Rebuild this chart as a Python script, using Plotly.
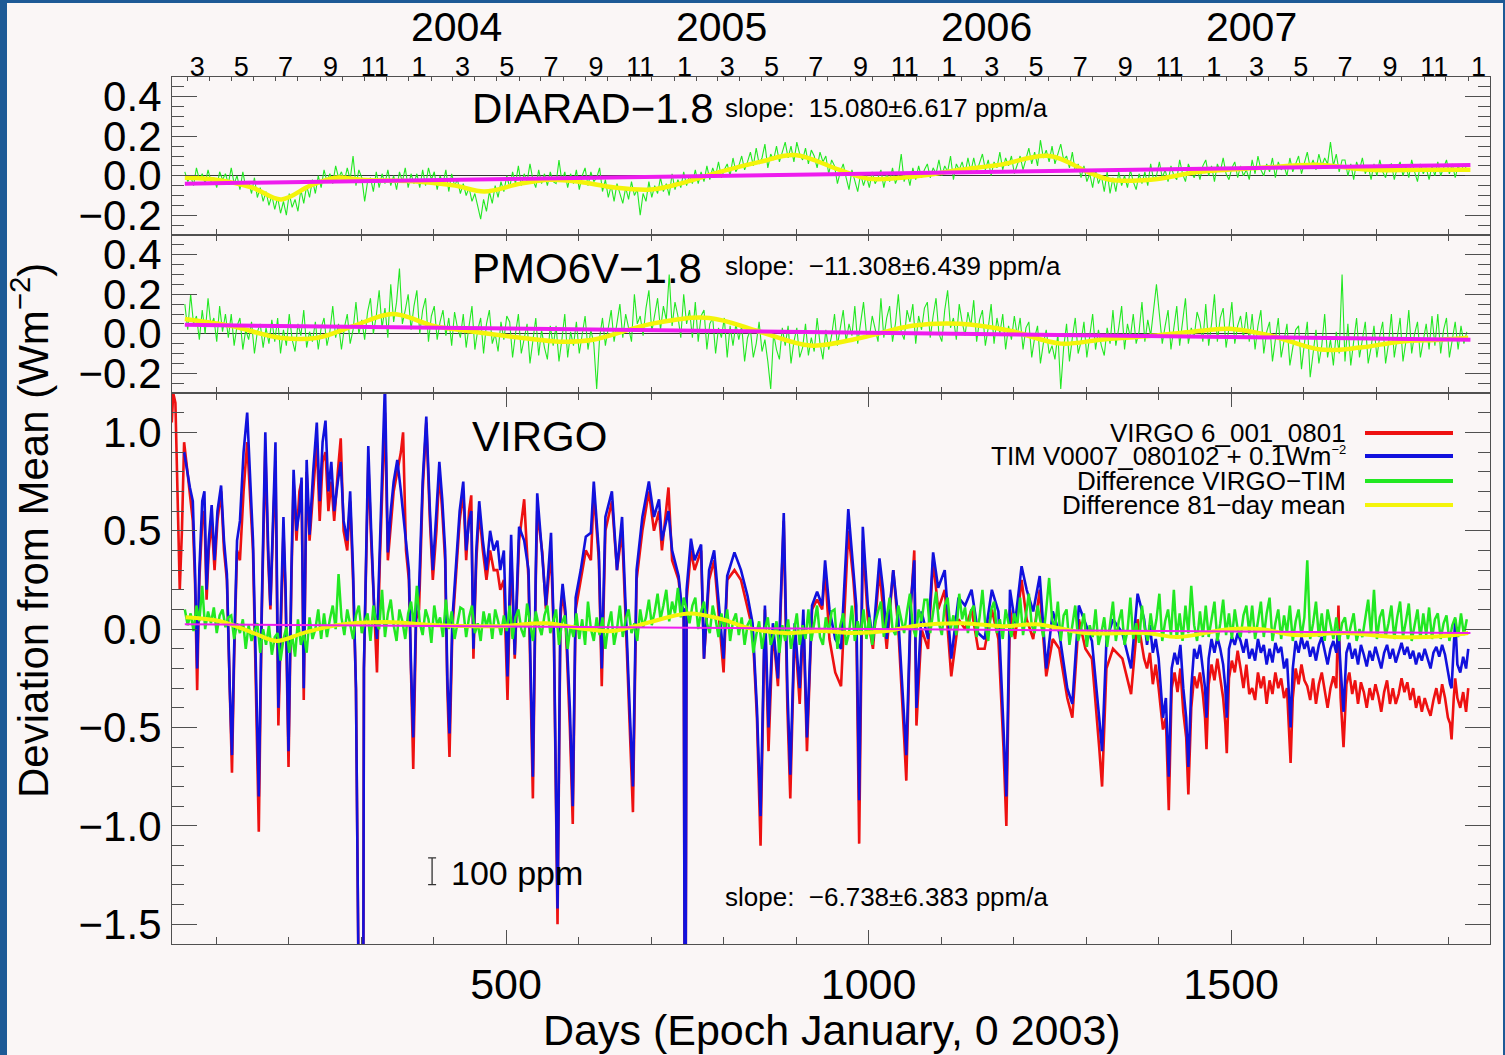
import datetime as dt
import plotly.graph_objects as go

# ------------------------------------------------------------------ data
# noisy daily-difference readings: first reading day, step (days), values in 0.01 W/m2
GREEN_START = 57
GREEN_STEP = 4

diarad_diff_c = [
    2, -3, 0, -5, 4, -2, 1, -4, 3, -3, -1, -6, 2, -2, 1, -4,
    4, -4, 0, -7, 2, -6, -3, -9, -1, -11, -6, -13, -8, -15, -10, -17,
    -11, -19, -13, -20, -9, -16, -12, -18, -7, -14, -5, -11, -2, -9, 0, -6,
    3, -3, 1, -4, 5, -1, 2, -3, 4, -2, 10, -5, 3, -1, -13, -3,
    -1, -8, 2, -6, 1, -4, 3, -5, 0, -7, 2, -3, 4, -6, 1, -4,
    1, -6, 3, -5, 4, -2, 2, -7, 0, -4, 3, -8, 1, -5, -2, -9,
    -4, -10, -6, -13, -9, -16, -22, -12, -18, -8, -14, -5, -11, -3, -8, 0,
    -6, 2, -4, 5, -5, 1, -3, 6, -2, -6, 3, -4, 1, -5, 2, -3,
    -4, 8, -3, 2, -6, 1, -4, 3, -7, 0, 4, -5, 2, -3, -1, 4,
    -8, -2, -11, -5, -13, -4, -9, -14, -6, -12, -3, -10, -7, -20, -9, -13,
    -3, -11, -5, -9, -1, -8, -4, -10, 1, -7, -2, -6, 2, -5, 0, -4,
    3, -4, 2, -3, 5, -2, 4, 0, 7, -1, 3, 6, 0, 9, 2, 5,
    10, 3, 7, 12, 5, 14, 6, 9, 16, 4, 11, 8, 15, 7, 12, 17,
    9, 15, 7, 17, 11, 8, 14, 6, 13, 10, 4, 12, 7, 10, 1, 8,
    5, -4, 2, 6, -1, -7, 3, -2, -8, 1, -5, 0, -6, 2, -4, -1,
    3, -6, 1, -3, 4, -4, 0, 11, -3, 2, -5, 4, -2, 5, -1, 3,
    6, -1, 4, 1, 8, 0, 5, 2, 10, -2, 6, 3, 7, 1, 9, 2,
    9, 2, 6, 11, 3, 8, 0, 7, 4, 12, 3, 9, 5, 10, 1, 6,
    10, 3, 8, 14, 6, 12, 5, 18, 9, 13, 7, 15, 6, 11, 16, 8,
    10, 4, 12, 2, 6, -1, 5, -3, 1, -6, 3, -4, 0, -8, 2, -9,
    -1, -8, 2, -5, 0, -6, 3, -3, -7, 1, -4, 2, -5, 6, -2, 0,
    7, -1, 3, -3, 5, 0, -2, 8, 1, -3, 6, 2, -1, 4, -2, 5,
    8, 0, 5, -3, 6, 2, 9, 1, -2, 4, 7, -1, 5, 0, 3, -2,
    8, 1, 10, 3, 0, 6, 2, 9, -1, 7, 3, 5, 0, 9, 2, 6,
    10, 1, 7, 12, 4, 8, 3, 11, 5, 9, 6, 17, 5, 11, 2, 8,
    8, 0, 6, -2, 7, 3, 9, 1, 5, -2, 6, 0, 8, 2, -1, 5,
    6, -2, 4, 7, 0, 5, -1, 8, 2, -3, 6, 1, 4, -2, 5, 0,
    7, 0, 4, 8, 1, 6, -1, 5, 2, 6, 3,
]
diarad_mean_days = [57, 100, 150, 190, 230, 265, 300, 380, 430, 470, 520, 560,
                    600, 650, 700, 740, 795, 850, 898, 960, 1000, 1071, 1126,
                    1180, 1250, 1305, 1333, 1389, 1457, 1540, 1622, 1691, 1760, 1830]
diarad_mean = [-0.01, -0.02, -0.06, -0.12, -0.05, -0.01, -0.02, -0.03, -0.05, -0.08,
               -0.04, -0.02, -0.03, -0.06, -0.07, -0.04, 0.02, 0.07, 0.105, 0.03,
               -0.015, 0.0, 0.03, 0.055, 0.10, 0.015, -0.02, -0.02, 0.02, 0.04,
               0.055, 0.03, 0.03, 0.03]

pmo_diff_c = [
    15, 2, 20, 5, 9, -3, 12, 0, 18, 4, 8, -4, 14, 1, 10, -2,
    10, -6, 4, 8, -8, 2, -3, 6, -10, 1, 5, -7, 3, -5, 7, -4,
    8, -10, 2, -6, 10, -3, -9, 5, -1, 12, -7, 1, -4, 6, -8, 3,
    8, -6, 1, 14, -2, 5, -8, 3, 10, -5, 2, 16, 0, 7, -3, 11,
    18, 0, 9, 22, 3, 13, -2, 25, 6, 16, 33, 5, 12, 20, 2, 14,
    22, 0, 12, 18, -4, 9, 14, -3, 6, 12, -1, 8, -6, 11, 3, -2,
    10, -7, 4, 14, -8, 2, 8, -10, 5, 12, -5, 0, -9, 6, -3, 9,
    6, -12, 0, 10, -10, -2, 5, -15, -4, 8, -11, 2, -7, -13, 4, -6,
    4, -14, -3, 10, -12, 1, -6, 6, -10, -1, 9, -8, 2, -5, -28, -2,
    8, -6, 3, 12, -4, 6, 15, -2, 10, 3, -4, 20, 5, 9, -1, 13,
    22, 1, 10, 18, 2, 14, 7, 30, 4, 16, 9, -2, 20, 5, 12, -2,
    16, -4, 9, 12, -8, 5, 8, -10, 3, -2, 8, -12, 4, -6, 5, -3,
    4, -14, -2, 2, -12, -5, 6, -9, -3, -14, -28, 0, -8, -13, 3, -6,
    4, -15, -4, 3, -12, -7, 5, -11, -2, -9, 8, -5, -13, 2, -8, -1,
    10, -6, 3, 12, -4, 5, -1, 14, -5, 6, 16, 0, -2, 9, 3, -4,
    18, -2, 8, 14, -4, 5, 20, 1, -3, 12, 6, 15, -5, 9, 2, 13,
    16, -2, 9, 18, 0, -4, 12, 22, 3, 8, -3, 15, 6, -1, 11, 4,
    17, -4, 7, 12, -6, 3, 15, -5, 8, 0, 10, -8, 4, -3, 9, -1,
    8, -8, 3, 6, -12, -2, 4, -15, -5, 2, -10, -6, -13, 0, -28, -7,
    5, -14, -2, 8, -10, -4, 6, -12, -1, 10, -8, 2, -6, -11, 3, -5,
    12, -6, 3, 14, -8, 5, -2, 10, -5, 1, 16, -4, 7, -1, 12, 25,
    10, -5, 4, 12, -8, 2, 14, -6, 5, 18, -5, 3, -2, 11, 6, -4,
    15, -6, 5, 20, -4, 8, 13, -7, 3, 16, -5, 4, 9, -2, 11, -4,
    10, -8, 4, 12, -10, 1, 6, -14, -3, 8, -12, -4, 5, -16, -6, 2,
    4, -18, -5, 6, -22, -9, 2, -15, -6, 10, -12, -3, -16, 1, -10, 30,
    -14, 5, -16, -4, 8, -12, -2, 6, -15, -7, 4, -12, -1, 6, -15, -5,
    10, -12, -2, 8, -14, -4, 12, -10, 0, 6, -12, -3, 5, -8, 9, -6,
    10, -10, 2, 8, -12, -3, 6, -8, 4, -5, 1,
]
pmo_mean_days = [57, 120, 188, 240, 290, 344, 400, 445, 520, 575, 620, 700, 780,
                 850, 920, 990, 1060, 1125, 1195, 1265, 1320, 1390, 1460, 1497,
                 1555, 1623, 1678, 1733, 1788, 1827]
pmo_mean = [0.075, 0.04, -0.02, -0.02, 0.04, 0.10, 0.04, 0.015, -0.02, -0.04, -0.03,
            0.05, 0.08, 0.01, -0.06, -0.02, 0.04, 0.05, 0.015, -0.05, -0.03, -0.01,
            0.015, 0.025, -0.01, -0.08, -0.07, -0.04, -0.03, -0.02]

vt_days = [
    39, 41, 44, 47, 50, 53, 56, 60, 64, 68,
    71, 74, 77, 81, 84, 87, 90, 94, 98, 102,
    107, 111, 115, 119, 122, 125, 129, 133, 138, 143,
    147, 151, 155, 159, 163, 168, 172, 175, 179, 182,
    186, 190, 193, 196, 200, 204, 207, 211, 215, 218,
    221, 225, 229, 234, 239, 243, 247, 251, 255, 259,
    263, 268, 272, 276, 281, 285, 289, 293, 295, 302,
    304, 310, 314, 318, 322, 326, 330, 333, 337, 341,
    345, 350, 355, 358, 362, 366, 369, 372, 376, 380,
    385, 390, 395, 399, 404, 408, 412, 416, 419, 422,
    426, 431, 436, 441, 445, 449, 452, 455, 459, 463,
    468, 473, 478, 483, 488, 492, 497, 502, 507, 512,
    518, 525, 531, 535, 537, 541, 543, 550, 555, 562,
    566, 571, 575, 578, 582, 588, 592, 596, 603, 610,
    617, 621, 628, 632, 637, 646, 653, 660, 666, 671,
    675, 680, 688, 697, 704, 711, 715, 724, 729, 738,
    742, 745, 747, 749, 755, 760, 769, 773, 780, 787,
    800, 805, 815, 824, 833, 840, 846, 851, 857, 862,
    868, 875, 883, 888, 892, 898, 905, 910, 915, 922,
    929, 936, 940, 946, 954, 962, 972, 979, 983, 987,
    992, 999, 1006, 1015, 1020, 1025, 1034, 1041, 1049, 1052,
    1058, 1063, 1066, 1073, 1082, 1089, 1096, 1105, 1114, 1124,
    1133, 1142, 1151, 1160, 1170, 1179, 1186, 1190, 1195, 1202,
    1211, 1218, 1227, 1236, 1245, 1254, 1263, 1274, 1281, 1290,
    1299, 1308, 1318, 1322, 1328, 1337, 1350, 1362, 1371,
    1380, 1384, 1388, 1392, 1396, 1400, 1403, 1406, 1410, 1414,
    1418, 1422, 1426, 1430, 1434, 1438, 1441, 1445, 1449, 1453,
    1457, 1461, 1464, 1466, 1469, 1473, 1477, 1481, 1485, 1489,
    1492, 1494, 1497, 1501, 1505, 1509, 1513, 1517, 1521, 1525,
    1529, 1533, 1537, 1541, 1545, 1549, 1553, 1557, 1561, 1565,
    1569, 1573, 1577, 1580, 1582, 1585, 1589, 1593, 1597, 1601,
    1605, 1609, 1613, 1617, 1621, 1625, 1629, 1633, 1637, 1641,
    1645, 1648, 1651, 1655, 1659, 1663, 1667, 1671, 1675, 1679,
    1683, 1687, 1691, 1695, 1699, 1703, 1707, 1711, 1715, 1719,
    1723, 1727, 1731, 1735, 1739, 1743, 1747, 1751, 1755, 1759,
    1763, 1767, 1771, 1775, 1779, 1783, 1787, 1791, 1795, 1799,
    1802, 1804, 1807, 1809, 1812, 1816, 1820, 1824, 1827,
]
tim_vals = [
    None, None, None, None, None, None, 0.90, 0.80, 0.72, 0.65,
    0.30, -0.20, 0.30, 0.65, 0.70, 0.20, 0.45, 0.63, 0.35, 0.60,
    0.73, 0.45, 0.28, -0.30, -0.64, -0.10, 0.45, 0.55, 0.90, 1.10,
    0.80, 0.45, -0.20, -0.85, 0.10, 1.00, 0.40, 0.12, 0.60, 0.95,
    -0.40, 0.20, 0.57, 0.20, -0.62, 0.30, 0.81, 0.50, 0.60, 0.77,
    -0.30, 0.86, 0.48, 0.80, 1.05, 0.65, 0.95, 1.06, 0.70, 0.85,
    0.60, 0.75, 0.85, 0.55, 0.45, 0.70, 0.30, -0.30, -4.0, -4.0,
    -0.20, 0.93, 0.50, 0.12, -0.05, 0.40, 0.80, 1.25, 0.39, 0.60,
    0.75, 0.86, 0.70, 0.60, 0.45, 0.30, -0.20, -0.55, 0.10, 0.20,
    0.75, 1.08, 0.60, 0.30, 0.60, 0.85, 0.66, 0.40, -0.25, -0.53,
    0.05, 0.35, 0.60, 0.75, 0.40, 0.55, 0.60, -0.10, 0.40, 0.65,
    0.45, 0.30, 0.50, 0.40, 0.45, 0.30, 0.40, -0.24, 0.48, -0.13,
    0.52, 0.45, 0.30, -0.40, -0.75, 0.30, 0.69, 0.37, 0.12, 0.49,
    -0.02, -1.42, 0.10, 0.23, 0.09, -0.40, -0.90, 0.16, 0.30, 0.47,
    0.49, 0.75, 0.39, -0.20, 0.57, 0.70, 0.30, 0.57, -0.04, -0.45,
    -0.80, 0.30, 0.57, 0.75, 0.57, 0.66, 0.45, 0.60, 0.40, 0.27,
    0.12, 0.10, -3.0, 0.20, 0.46, 0.35, 0.43, -0.15, 0.30, 0.40,
    -0.15, 0.27, 0.39, 0.30, 0.17, 0.03, -0.40, -0.95, 0.12, -0.50,
    0.03, -0.25, 0.59, -0.30, -0.74, 0.03, -0.30, 0.10, -0.55, 0.12,
    0.19, 0.12, 0.35, 0.10, -0.05, -0.10, 0.61, 0.30, 0.12, -0.87,
    0.52, 0.12, -0.06, 0.36, 0.20, -0.05, 0.30, 0.05, -0.50, -0.64,
    0.12, 0.35, -0.40, 0.09, -0.05, 0.39, 0.21, 0.30, -0.15, 0.16,
    0.12, 0.20, -0.02, -0.05, 0.20, 0.09, -0.50, -0.85, 0.20, 0.03,
    0.32, 0.20, 0.09, 0.27, -0.20, 0.09, -0.02, -0.30, -0.38, 0.12,
    0.03, -0.06, -0.45, -0.62, -0.06, 0.05, -0.02, -0.20, 0.18,
    0.05, -0.08, 0.02, -0.12, -0.05, -0.15, -0.30, -0.45, -0.35, -0.75,
    -0.20, -0.12, -0.18, -0.08, -0.30, -0.45, -0.70, -0.30, -0.10, -0.15,
    -0.08, -0.20, -0.30, -0.45, -0.15, -0.05, -0.12, -0.04, -0.10, -0.18,
    -0.30, -0.45, -0.10, -0.04, -0.08, -0.02, -0.06, -0.12, -0.05, -0.15,
    -0.10, -0.16, -0.05, -0.12, -0.08, -0.18, -0.10, -0.17, -0.07, -0.12,
    -0.09, -0.20, -0.15, -0.35, -0.50, -0.20, -0.06, -0.12, -0.04, -0.10,
    -0.06, -0.14, -0.09, -0.16, -0.08, -0.04, -0.12, -0.18, -0.10, -0.06,
    -0.12, 0.00, -0.20, -0.42, -0.12, -0.07, -0.15, -0.10, -0.18, -0.08,
    -0.13, -0.19, -0.11, -0.16, -0.09, -0.14, -0.20, -0.12, -0.08, -0.15,
    -0.10, -0.17, -0.12, -0.07, -0.13, -0.09, -0.15, -0.11, -0.18, -0.12,
    -0.16, -0.10, -0.15, -0.20, -0.12, -0.09, -0.14, -0.08, -0.13, -0.22,
    -0.28, -0.30, -0.10, 0.05, -0.18, -0.22, -0.14, -0.20, -0.10,
]
virgo_vals = [
    1.05, 1.20, 1.15, 0.60, 0.20, 0.50, 0.95, 0.82, 0.68, 0.55,
    0.25, -0.31, 0.25, 0.55, 0.60, 0.15, 0.40, 0.55, 0.30, 0.55,
    0.70, 0.40, 0.25, -0.35, -0.73, -0.15, 0.40, 0.35, 0.70, 0.95,
    0.70, 0.40, -0.30, -1.03, 0.05, 0.92, 0.35, 0.10, 0.55, 0.85,
    -0.49, 0.15, 0.50, 0.15, -0.70, 0.25, 0.75, 0.45, 0.70, 0.75,
    -0.36, 0.80, 0.45, 0.70, 0.95, 0.55, 0.85, 0.90, 0.60, 0.75,
    0.55, 0.80, 0.97, 0.50, 0.40, 0.65, 0.25, -0.30, -4.0, -4.0,
    -0.20, 0.85, 0.45, 0.10, -0.22, 0.35, 0.75, 1.10, 0.35, 0.55,
    0.70, 0.80, 0.90, 1.00, 0.40, 0.25, -0.30, -0.71, 0.05, 0.10,
    0.70, 1.05, 0.55, 0.25, 0.50, 0.80, 0.60, 0.35, -0.30, -0.65,
    0.00, 0.30, 0.55, 0.70, 0.35, 0.60, 0.68, -0.15, 0.35, 0.60,
    0.40, 0.25, 0.40, 0.30, 0.30, 0.20, 0.25, -0.36, 0.40, -0.15,
    0.45, 0.66, 0.25, -0.50, -0.86, 0.25, 0.60, 0.39, 0.10, 0.40,
    -0.05, -1.50, 0.05, 0.20, 0.05, -0.50, -0.99, 0.10, 0.25, 0.40,
    0.35, 0.70, 0.35, -0.29, 0.50, 0.65, 0.30, 0.50, -0.05, -0.55,
    -0.93, 0.25, 0.50, 0.70, 0.50, 0.60, 0.40, 0.72, 0.35, 0.25,
    0.10, 0.10, -3.0, 0.15, 0.40, 0.30, 0.40, -0.15, 0.25, 0.35,
    -0.22, 0.25, 0.30, 0.25, 0.10, 0.00, -0.45, -1.10, 0.10, -0.62,
    0.00, -0.29, 0.55, -0.40, -0.86, 0.00, -0.38, 0.05, -0.62, 0.10,
    0.15, 0.10, 0.30, -0.05, -0.22, -0.29, 0.50, 0.25, 0.05, -1.09,
    0.45, 0.05, -0.10, 0.30, 0.10, -0.10, 0.30, 0.00, -0.55, -0.77,
    0.10, 0.40, -0.49, 0.00, -0.10, 0.35, 0.10, 0.20, -0.24, 0.05,
    0.00, 0.10, -0.10, -0.10, 0.10, -0.05, -0.60, -1.00, 0.10, -0.05,
    0.25, 0.05, -0.05, 0.20, -0.24, -0.05, -0.10, -0.35, -0.45, 0.05,
    -0.10, -0.15, -0.60, -0.80, -0.20, -0.10, -0.15, -0.33, 0.05,
    -0.15, -0.20, -0.12, -0.28, -0.18, -0.30, -0.42, -0.51, -0.45, -0.92,
    -0.30, -0.22, -0.32, -0.20, -0.42, -0.55, -0.84, -0.40, -0.24, -0.30,
    -0.22, -0.33, -0.45, -0.61, -0.28, -0.18, -0.26, -0.15, -0.25, -0.35,
    -0.48, -0.63, -0.25, -0.16, -0.22, -0.11, -0.20, -0.30, -0.18, -0.33,
    -0.30, -0.36, -0.22, -0.30, -0.24, -0.38, -0.26, -0.33, -0.22, -0.30,
    -0.25, -0.35, -0.30, -0.50, -0.68, -0.35, -0.20, -0.28, -0.18, -0.26,
    -0.29, -0.36, -0.25, -0.38, -0.28, -0.22, -0.32, -0.40, -0.30, -0.24,
    -0.30, 0.12, -0.35, -0.60, -0.28, -0.22, -0.33, -0.26, -0.38, -0.27,
    -0.32, -0.40, -0.30, -0.36, -0.28, -0.34, -0.42, -0.32, -0.26, -0.38,
    -0.30, -0.38, -0.33, -0.25, -0.32, -0.27, -0.36, -0.30, -0.40, -0.34,
    -0.42, -0.35, -0.40, -0.44, -0.36, -0.30, -0.38, -0.28, -0.35, -0.45,
    -0.48, -0.56, -0.35, -0.25, -0.35, -0.40, -0.32, -0.42, -0.30,
]
virgo_diff_c = [
    10, 2, 8, -1, 12, 4, 22, 0, 9, 3, 11, -2, 7, 10, 1, 6,
    7, -5, 3, -2, 5, -10, 2, -6, -1, 3, -12, 0, -8, 2, -13, -4,
    -2, -16, -5, 1, -12, -3, -14, 5, -8, -2, -12, 6, -5, 0, 10, -5,
    8, -4, 5, 12, 0, 28, 6, -3, 10, 2, -5, 7, 12, -2, 4, 8,
    -6, 12, 3, 0, 20, -4, 8, 15, 2, -6, 10, 4, -5, 8, 14, 1,
    22, 3, -3, 10, 5, -7, 12, 2, 6, -4, 15, 0, 9, -5, 4, 11,
    10, -4, 6, 12, -2, 3, -6, 9, 1, 8, -5, 10, 4, -3, 7, -1,
    12, -5, 6, 10, 0, -4, 13, 3, -6, 9, 2, -3, 7, 12, -2, 4,
    10, -8, 3, 7, -10, 2, -4, 8, -5, 5, -8, 14, 0, -6, 6, -3,
    6, -10, 2, 9, -8, 0, 12, -4, 5, 10, -2, 3, -6, 10, 1, 6,
    15, 2, 9, 18, 5, 12, 20, 4, 14, 8, 21, 6, 16, 10, 3, 12,
    16, 0, 9, 14, 3, -2, 12, 5, -4, 8, 0, 10, -6, 4, 8, -3,
    6, -8, 2, 5, -12, -3, 4, -10, 0, 6, -8, -3, 4, -12, 2, -6,
    5, -10, 0, 8, -8, 2, -5, 10, -6, 3, 12, -4, -8, 6, -2, 9,
    10, -10, 2, 8, -8, -2, 12, -6, 4, -3, 10, -5, 6, -8, 3, 9,
    14, -4, 6, 16, 0, -3, 12, 5, -2, 9, 18, 1, -4, 10, 4, 15,
    15, -2, 8, 19, 3, -3, 12, 16, 0, 7, -3, 18, 5, 11, -2, 9,
    12, -4, 6, 20, 2, -6, 10, 14, -2, 5, -5, 10, 3, -4, 8, 2,
    16, -3, 7, 18, 2, -2, 12, 4, -4, 10, 26, 5, 0, 14, -6, 7,
    10, -8, 3, 12, -6, 0, 8, -9, 2, -4, 10, -8, -2, 6, -9, 4,
    14, -6, 4, 10, -8, -1, 16, -5, 3, -7, 12, 0, -6, 8, -3, 5,
    18, -6, 4, 10, -3, 20, -5, 8, -6, 12, -2, 22, 2, -6, 9, -4,
    12, -4, 6, 14, -6, 3, 15, -3, 8, -5, 10, 0, -4, 7, 12, -2,
    12, -5, 4, 14, -4, 8, 16, -6, 3, 10, -5, 7, -2, 12, -6, 4,
    10, -4, 6, 35, -5, 3, 14, -4, 8, -6, 10, 2, -5, 6, -6, 3,
    6, -5, 2, 8, -6, 0, -4, 5, 15, -3, 20, -5, 6, 10, -4, 3,
    12, -5, 6, 14, -4, 4, 13, -6, 2, 10, -5, 8, -3, 11, -5, 5,
    8, -5, 3, 7, -6, 2, 6, -4, 8, -3, 5,
]
virgo_mean_days = [58, 106, 152, 184, 220, 266, 335, 404, 491, 555, 601, 647, 693,
                   752, 798, 835, 885, 936, 978, 1024, 1070, 1130, 1185, 1231, 1263,
                   1300, 1382, 1427, 1496, 1542, 1588, 1657, 1726, 1794, 1827]
virgo_mean = [0.06, 0.04, -0.02, -0.06, -0.02, 0.02, 0.036, 0.02, 0.015, 0.03, 0.005,
              -0.01, 0.03, 0.08, 0.05, 0.005, -0.02, -0.01, -0.02, -0.01, 0.02, 0.03,
              0.015, 0.025, 0.005, -0.02, -0.02, -0.04, 0.0, 0.0, -0.03, -0.02, -0.04,
              -0.035, -0.02]

# linear fits (start / end of the record)
fit_days = [57, 1830]
diarad_fit = [-0.04, 0.055]
pmo_fit = [0.045, -0.03]
virgo_fit = [0.025, -0.02]

# scale bar: 100 ppm of TSI (~1361 W/m2)
SCALE_DAY, SCALE_Y, SCALE_HALF = 398, -1.23, 0.068

panel_labels = ["DIARAD\u22121.8", "PMO6V\u22121.8", "VIRGO"]
slope_labels = ["slope:  15.080\u00b16.617 ppm/a",
                "slope:  \u221211.308\u00b16.439 ppm/a",
                "slope:  \u22126.738\u00b16.383 ppm/a"]
legend_labels = ["VIRGO 6_001_0801",
                 "TIM V0007_080102 + 0.1Wm<sup><span style='font-size:13px'>\u22122</span></sup>",
                 "Difference VIRGO\u2212TIM",
                 "Difference 81\u2212day mean"]
years = [2004, 2005, 2006, 2007]

diarad_diff = [v / 100 for v in diarad_diff_c]
pmo_diff = [v / 100 for v in pmo_diff_c]
virgo_diff = [v / 100 for v in virgo_diff_c]

# ------------------------------------------------------------------ style
FONT = "Liberation Sans, Arial, Helvetica, sans-serif"
BG = "#faf6f6"
FRAME = "#505050"
RED, BLUE, GREEN, YELLOW, MAGENTA = "#ee1111", "#1111dd", "#22e822", "#f4f40a", "#ee1cee"
BORDER = "#1d5a96"

W, H = 1505, 1055
L, R, T, B = 172, 1490, 77, 944
XR = [39.3, 1857]


def pxx(p):
    return (p - L) / (R - L)


def pyy(p):
    return (B - p) / (B - T)


dom3 = [0, pyy(393)]
dom2 = [pyy(393), pyy(235)]
dom1 = [pyy(235), 1]


def gdays(vals):
    return [GREEN_START + GREEN_STEP * i for i in range(len(vals))]


fig = go.Figure()


def line(x, y, xa, ya, color, width, shape="linear"):
    fig.add_trace(go.Scatter(x=x, y=y, xaxis=xa, yaxis=ya, mode="lines",
                             line=dict(color=color, width=width, shape=shape),
                             hoverinfo="skip", showlegend=False, connectgaps=False))


# DIARAD (top)
line(gdays(diarad_diff), diarad_diff, "x3", "y", GREEN, 1.1)
line(diarad_mean_days, diarad_mean, "x3", "y", YELLOW, 4.5, "spline")
line(fit_days, diarad_fit, "x3", "y", MAGENTA, 4)
# PMO6V (middle)
line(gdays(pmo_diff), pmo_diff, "x2", "y2", GREEN, 1.1)
line(pmo_mean_days, pmo_mean, "x2", "y2", YELLOW, 4.5, "spline")
line(fit_days, pmo_fit, "x2", "y2", MAGENTA, 4)
# VIRGO (bottom)
line(vt_days, virgo_vals, "x", "y3", RED, 2.6)
line(vt_days, tim_vals, "x", "y3", BLUE, 2.6)
line(gdays(virgo_diff), virgo_diff, "x", "y3", GREEN, 2.5)
line(virgo_mean_days, virgo_mean, "x", "y3", YELLOW, 4, "spline")
line(fit_days, virgo_fit, "x", "y3", MAGENTA, 2)

# scale bar
fig.add_trace(go.Scatter(x=[SCALE_DAY], y=[SCALE_Y], xaxis="x", yaxis="y3", mode="markers",
                         marker=dict(size=1, color="rgba(0,0,0,0)"),
                         error_y=dict(type="constant", value=SCALE_HALF, color="#333333",
                                      thickness=1.3, width=4),
                         hoverinfo="skip", showlegend=False))
# dummy traces for overlay (month) axes
for xa in ("x4", "x5"):
    fig.add_trace(go.Scatter(x=[None], y=[None], xaxis=xa, yaxis="y", mode="lines",
                             hoverinfo="skip", showlegend=False))

# month ticks
epoch = dt.date(2002, 12, 31)
month_starts, month_mids, month_text = [], [], []
for yr in range(2003, 2009):
    for m in range(1, 13):
        d0 = (dt.date(yr, m, 1) - epoch).days
        if XR[0] <= d0 <= XR[1]:
            month_starts.append(d0)
        dm = (dt.date(yr, m, 15) - epoch).days
        if m % 2 == 1 and XR[0] <= dm <= XR[1]:
            month_mids.append(dm)
            month_text.append(str(m))

base_ax = dict(showgrid=False, zeroline=False, showline=True, linecolor=FRAME, linewidth=1.2,
               ticks="inside", tickcolor=FRAME, tickwidth=1.2,
               tickfont=dict(family=FONT, size=42, color="black"))

xcommon = dict(base_ax, range=XR, tick0=0)
ycommon = dict(base_ax, tickformat=".1f", tick0=0, ticklen=25, mirror="ticks",
               ticklabelstandoff=1,
               minor=dict(ticks="inside", ticklen=12, tickcolor=FRAME, tickwidth=1.2))

layout_axes = dict(
    xaxis=dict(xcommon, domain=[0, 1], anchor="y3", dtick=500, ticklen=14, mirror="allticks",
               ticklabelstandoff=2, tickfont=dict(family=FONT, size=43, color="black"),
               minor=dict(ticks="inside", dtick=100, tick0=0, ticklen=7, tickcolor=FRAME,
                          tickwidth=1.2)),
    xaxis2=dict(xcommon, domain=[0, 1], anchor="y2", dtick=100, ticklen=6, mirror="ticks",
                showticklabels=False),
    xaxis3=dict(xcommon, domain=[0, 1], anchor="y", dtick=100, ticklen=6, mirror=True,
                showticklabels=False),
    xaxis4=dict(showgrid=False, zeroline=False, showline=False, overlaying="x3", side="top",
                anchor="y", range=XR, tickmode="array", tickvals=month_starts,
                showticklabels=False, ticks="inside", ticklen=4,
                tickcolor=FRAME, tickwidth=1.2),
    xaxis5=dict(showgrid=False, zeroline=False, showline=False, overlaying="x3", side="top",
                anchor="y", range=XR, tickmode="array", tickvals=month_mids,
                ticktext=month_text, ticks="", ticklabelstandoff=-5,
                tickfont=dict(family=FONT, size=27, color="black")),
    yaxis=dict(ycommon, domain=dom1, anchor="x3", range=[-0.3, 0.5], dtick=0.2,
               zeroline=True, zerolinecolor="#333333", zerolinewidth=1,
               minor=dict(ycommon["minor"], dtick=0.05)),
    yaxis2=dict(ycommon, domain=dom2, anchor="x2", range=[-0.3, 0.5], dtick=0.2,
                zeroline=True, zerolinecolor="#333333", zerolinewidth=1,
                minor=dict(ycommon["minor"], dtick=0.05)),
    yaxis3=dict(ycommon, domain=dom3, anchor="x", range=[-1.6, 1.2], dtick=0.5,
                minor=dict(ycommon["minor"], dtick=0.1)),
)

ann = []
txt = dict(family=FONT, color="black")
# year labels (left-aligned at 1 January)
for yr in years:
    ann.append(dict(x=(dt.date(yr, 1, 1) - epoch).days, xref="x3", y=pyy(27), yref="paper",
                    text=str(yr), showarrow=False, xanchor="left", yanchor="middle",
                    font=dict(txt, size=41)))
# panel names and slopes
for lbl, yp in zip(panel_labels, [108, 268, 436]):
    ann.append(dict(x=pxx(470), y=pyy(yp), xref="paper", yref="paper", text=lbl,
                    showarrow=False, xanchor="left", yanchor="middle", font=dict(txt, size=42)))
for lbl, yp in zip(slope_labels, [108, 266, 897]):
    ann.append(dict(x=pxx(723), y=pyy(yp), xref="paper", yref="paper", text=lbl,
                    showarrow=False, xanchor="left", yanchor="middle", font=dict(txt, size=26)))
ann.append(dict(x=pxx(449), y=pyy(873), xref="paper", yref="paper", text="100 ppm",
                showarrow=False, xanchor="left", yanchor="middle", font=dict(txt, size=34)))
# legend
shapes = []
for lbl, col, yp in zip(legend_labels, [RED, BLUE, GREEN, YELLOW], [433, 456, 481, 505]):
    ann.append(dict(x=pxx(1348), y=pyy(yp), xref="paper", yref="paper", text=lbl,
                    showarrow=False, xanchor="right", yanchor="middle", font=dict(txt, size=26)))
    shapes.append(dict(type="line", xref="paper", yref="paper", x0=pxx(1365), x1=pxx(1453),
                       y0=pyy(yp), y1=pyy(yp), line=dict(color=col, width=4)))
# axis titles
ann.append(dict(x=pxx(30), y=pyy(531), xref="paper", yref="paper",
                text="Deviation from Mean (Wm<sup>\u22122</sup>)", textangle=-90,
                showarrow=False, xanchor="center", yanchor="middle", font=dict(txt, size=42)))
ann.append(dict(x=pxx(832), y=pyy(1030), xref="paper", yref="paper",
                text="Days (Epoch January, 0 2003)",
                showarrow=False, xanchor="center", yanchor="middle", font=dict(txt, size=43)))

# blue page border strips
for x0, x1, y0, y1 in [(0, 7, 0, H), (0, W, 0, 3), (1503, W, 0, H)]:
    shapes.append(dict(type="rect", xref="paper", yref="paper", x0=pxx(x0), x1=pxx(x1),
                       y0=pyy(y1), y1=pyy(y0), line=dict(width=0), fillcolor=BORDER,
                       layer="above"))

fig.update_layout(
    width=W, height=H,
    margin=dict(l=L, r=W - R, t=T, b=H - B),
    paper_bgcolor=BG, plot_bgcolor=BG,
    showlegend=False, hovermode=False,
    font=dict(family=FONT, color="black"),
    annotations=ann, shapes=shapes,
    **layout_axes,
)

fig.write_html("out.html")
